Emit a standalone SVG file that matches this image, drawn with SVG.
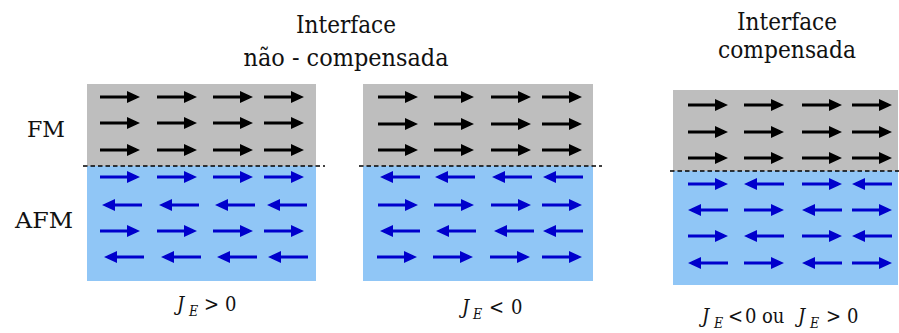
<svg xmlns="http://www.w3.org/2000/svg" width="899" height="333" viewBox="0 0 899 333">
<style>
text{font-family:'DejaVu Serif Condensed','DejaVu Serif',serif;fill:#111;}
.title{font-size:25px;text-anchor:middle;}
.side{font-size:23px;}
.lab{font-size:20px;}
.it{font-style:italic;}
.fm{fill:#BEBEBE;}
.afm{fill:#90C6F6;}
.k{fill:#000;}
.b{fill:#0000CC;}
.dash{stroke:#000;stroke-width:1.6;stroke-dasharray:4.5 3;fill:none;}
</style>
<defs>
<path id="R" d="M0,-1.5 H27 V-6 L40,0 L27,6 V1.5 H0 Z"/>
<path id="L" d="M40,-1.5 H13 V-6 L0,0 L13,6 V1.5 H40 Z"/>
</defs>
<rect width="899" height="333" fill="#fff"/>

<g id="titles">
<text class="title" x="346" y="33" textLength="100" lengthAdjust="spacingAndGlyphs">Interface</text>
<text class="title" x="346" y="66" textLength="205" lengthAdjust="spacingAndGlyphs">não - compensada</text>
<text class="title" x="787" y="30" textLength="100" lengthAdjust="spacingAndGlyphs">Interface</text>
<text class="title" x="787" y="58" textLength="138" lengthAdjust="spacingAndGlyphs">compensada</text>
</g>

<g id="labels-side">
<text class="side" x="27" y="137" textLength="38" lengthAdjust="spacingAndGlyphs">FM</text>
<text class="side" x="15" y="228" textLength="58" lengthAdjust="spacingAndGlyphs">AFM</text>
</g>

<g id="panel1">
<rect class="fm" x="87" y="84" width="229" height="82"/>
<rect class="afm" x="87" y="166" width="229" height="115"/>
<g class="k">
<use href="#R" x="100" y="97"/><use href="#R" x="157" y="97"/><use href="#R" x="213" y="97"/><use href="#R" x="264" y="97"/>
<use href="#R" x="100" y="123"/><use href="#R" x="157" y="123"/><use href="#R" x="213" y="123"/><use href="#R" x="264" y="123"/>
<use href="#R" x="100" y="150"/><use href="#R" x="157" y="150"/><use href="#R" x="213" y="150"/><use href="#R" x="264" y="150"/>
</g>
<g class="b">
<use href="#R" x="100" y="177"/><use href="#R" x="157" y="177"/><use href="#R" x="213" y="177"/><use href="#R" x="264" y="177"/>
<use href="#L" x="102" y="205"/><use href="#L" x="159" y="205"/><use href="#L" x="215" y="205"/><use href="#L" x="267" y="205"/>
<use href="#R" x="100" y="231"/><use href="#R" x="157" y="231"/><use href="#R" x="213" y="231"/><use href="#R" x="264" y="231"/>
<use href="#L" x="104" y="257"/><use href="#L" x="161" y="257"/><use href="#L" x="217" y="257"/><use href="#L" x="268" y="257"/>
</g>
<text class="lab" y="311"><tspan class="it" x="177">J</tspan><tspan class="it" x="189" y="316" font-size="14">E</tspan><tspan x="204" y="311">&gt;</tspan><tspan x="225">0</tspan></text>
</g>

<g id="panel2">
<rect class="fm" x="363" y="84" width="230" height="82"/>
<rect class="afm" x="363" y="166" width="230" height="115"/>
<g class="k">
<use href="#R" x="378" y="97"/><use href="#R" x="434" y="97"/><use href="#R" x="491" y="97"/><use href="#R" x="542" y="97"/>
<use href="#R" x="378" y="124"/><use href="#R" x="434" y="124"/><use href="#R" x="491" y="124"/><use href="#R" x="542" y="124"/>
<use href="#R" x="378" y="150"/><use href="#R" x="434" y="150"/><use href="#R" x="491" y="150"/><use href="#R" x="542" y="150"/>
</g>
<g class="b">
<use href="#L" x="380" y="177"/><use href="#L" x="435" y="177"/><use href="#L" x="492" y="177"/><use href="#L" x="543" y="177"/>
<use href="#R" x="378" y="205"/><use href="#R" x="434" y="205"/><use href="#R" x="491" y="205"/><use href="#R" x="542" y="205"/>
<use href="#L" x="380" y="231"/><use href="#L" x="436" y="231"/><use href="#L" x="494" y="231"/><use href="#L" x="543" y="231"/>
<use href="#R" x="377" y="257"/><use href="#R" x="433" y="257"/><use href="#R" x="490" y="257"/><use href="#R" x="542" y="257"/>
</g>
<text class="lab" y="314"><tspan class="it" x="462">J</tspan><tspan class="it" x="473" y="319" font-size="14">E</tspan><tspan x="489" y="314">&lt;</tspan><tspan x="511">0</tspan></text>
</g>

<g id="panel3">
<rect class="fm" x="673" y="90" width="225" height="81"/>
<rect class="afm" x="673" y="171" width="225" height="114"/>
<g class="k">
<use href="#R" x="688" y="105"/><use href="#R" x="744" y="105"/><use href="#R" x="802" y="105"/><use href="#R" x="852" y="105"/>
<use href="#R" x="688" y="132"/><use href="#R" x="744" y="132"/><use href="#R" x="802" y="132"/><use href="#R" x="852" y="132"/>
<use href="#R" x="688" y="158"/><use href="#R" x="744" y="158"/><use href="#R" x="802" y="158"/><use href="#R" x="852" y="158"/>
</g>
<g class="b">
<use href="#R" x="688" y="184"/><use href="#L" x="744" y="184"/><use href="#R" x="802" y="184"/><use href="#L" x="852" y="184"/>
<use href="#L" x="688" y="210"/><use href="#R" x="744" y="210"/><use href="#L" x="802" y="210"/><use href="#R" x="852" y="210"/>
<use href="#R" x="688" y="236"/><use href="#L" x="744" y="236"/><use href="#R" x="802" y="236"/><use href="#L" x="852" y="236"/>
<use href="#L" x="688" y="263"/><use href="#R" x="744" y="263"/><use href="#L" x="802" y="263"/><use href="#R" x="852" y="263"/>
</g>
<text class="lab" y="323"><tspan class="it" x="702">J</tspan><tspan class="it" x="714" y="328" font-size="14">E</tspan><tspan x="728" y="323">&lt;</tspan><tspan x="745">0</tspan><tspan x="762">ou</tspan><tspan class="it" x="798">J</tspan><tspan class="it" x="810" y="328" font-size="14">E</tspan><tspan x="826" y="323">&gt;</tspan><tspan x="847">0</tspan></text>
</g>

<g id="connectors">
<line class="dash" x1="83" y1="166" x2="325" y2="166"/>
<line class="dash" x1="359" y1="166" x2="602" y2="166"/>
<line class="dash" x1="670" y1="171" x2="899" y2="171"/>
</g>
</svg>
